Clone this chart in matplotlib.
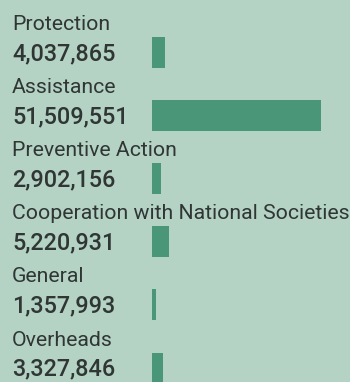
"""Expenditure by programme: labels, amounts and proportional bars."""

import matplotlib

matplotlib.use('Agg')
import matplotlib.pyplot as plt

categories = ['Protection', 'Assistance', 'Preventive Action',
              'Cooperation with National Societies', 'General', 'Overheads']
amounts = [4037865, 51509551, 2902156, 5220931, 1357993, 3327846]

BG = '#b4d3c5'
BAR = '#4a9678'
TEXT = '#2f3634'

W, H = 350, 382
fig = plt.figure(figsize=(W / 100, H / 100), dpi=100, facecolor=BG)

# text layer in pixel coordinates (y measured from top)
ax_txt = fig.add_axes([0, 0, 1, 1])
ax_txt.set_xlim(0, W)
ax_txt.set_ylim(H, 0)
ax_txt.axis('off')

# bar layer: starts at x=152 px, largest bar ~168 px long
bar_left = 152
ax_bar = fig.add_axes([bar_left / W, 0, (W - bar_left) / W, 1])
ax_bar.set_ylim(H, 0)
ax_bar.set_xlim(0, max(amounts) * (W - bar_left) / 168.5)
ax_bar.axis('off')
ax_bar.patch.set_alpha(0)

pitch = 63.1
first = 52.5
centers = [first + pitch * i for i in range(len(categories))]

ax_bar.barh(centers, amounts, height=31, color=BAR, edgecolor='none')

for c, cat, amt in zip(centers, categories, amounts):
    ax_txt.text(12, c - 22.5, cat, fontsize=15.3, family='Roboto',
                color=TEXT, va='baseline', ha='left')
    ax_txt.text(12, c + 7.5, f'{amt:,}', fontsize=16.8, family='Roboto',
                fontweight='medium', color=TEXT, va='baseline', ha='left')

plt.savefig('out.png', dpi=100, facecolor=BG)
plt.close()
